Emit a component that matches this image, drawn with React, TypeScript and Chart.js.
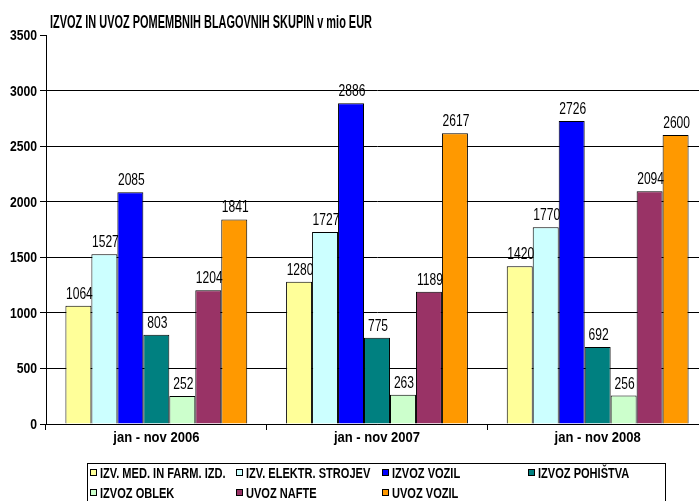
import React, { useEffect, useRef } from "react";
import { Chart, registerables } from "chart.js";

Chart.register(...registerables);

const title = "IZVOZ IN UVOZ POMEMBNIH BLAGOVNIH SKUPIN v mio EUR";
const categories = ["jan - nov 2006", "jan - nov 2007", "jan - nov 2008"];
const seriesNames = [
  "IZV. MED. IN FARM. IZD.",
  "IZV. ELEKTR. STROJEV",
  "IZVOZ VOZIL",
  "IZVOZ POHIŠTVA",
  "IZVOZ OBLEK",
  "UVOZ NAFTE",
  "UVOZ VOZIL",
];
const medFarm = [1064, 1280, 1420];
const elektr = [1527, 1727, 1770];
const izvozVozil = [2085, 2886, 2726];
const pohistvo = [803, 775, 692];
const oblek = [252, 263, 256];
const nafta = [1204, 1189, 2094];
const uvozVozil = [1841, 2617, 2600];
const seriesValues = [medFarm, elektr, izvozVozil, pohistvo, oblek, nafta, uvozVozil];
const colors = ["#FFFF99", "#CCFFFF", "#0000FF", "#008080", "#CCFFCC", "#993366", "#FF9900"];
const yMax = 3500;
const yStep = 500;

const FAMILY = '"Liberation Sans", Arial, sans-serif';

function drawText(
  ctx: CanvasRenderingContext2D,
  text: string,
  x: number,
  y: number,
  align: "left" | "center" | "right",
  font: string,
  sx: number,
  baseline: CanvasTextBaseline = "alphabetic"
) {
  ctx.save();
  ctx.font = font;
  ctx.textBaseline = baseline;
  ctx.textAlign = "left";
  const w = ctx.measureText(text).width * sx;
  let left = x;
  if (align === "center") left = x - w / 2;
  else if (align === "right") left = x - w;
  ctx.translate(left, y);
  ctx.scale(sx, 1);
  ctx.fillStyle = "#000";
  ctx.fillText(text, 0, 0);
  ctx.restore();
}

const textPlugin = {
  id: "textPlugin",
  afterDraw(chart: any) {
    const ctx: CanvasRenderingContext2D = chart.ctx;
    const area = chart.chartArea;
    // title
    ctx.save();
    const tFont = `bold 18px ${FAMILY}`;
    ctx.font = tFont;
    const tw = ctx.measureText(title).width;
    ctx.restore();
    drawText(ctx, title, 50, 28, "left", tFont, 322 / tw);

    // y tick labels
    const ys = chart.scales.y;
    ys.ticks.forEach((t: any) => {
      const py = ys.getPixelForValue(t.value);
      drawText(ctx, String(t.value), area.left - 9, py + 5, "right", `bold 14px ${FAMILY}`, 0.87);
    });

    // x labels
    const xs = chart.scales.x;
    categories.forEach((c, i) => {
      const px = xs.getPixelForValue(i);
      drawText(ctx, c, px, area.bottom + 18, "center", `bold 14px ${FAMILY}`, 0.93);
    });

    // data labels
    chart.data.datasets.forEach((ds: any, di: number) => {
      const meta = chart.getDatasetMeta(di);
      meta.data.forEach((bar: any, i: number) => {
        drawText(ctx, String(ds.data[i]), bar.x + 1, bar.y - 7, "center", `17px ${FAMILY}`, 0.71);
      });
    });

    // legend
    const lx = 87, ly = 463, lw = 578, lh = 46;
    ctx.save();
    ctx.strokeStyle = "#000";
    ctx.lineWidth = 1;
    ctx.strokeRect(lx + 0.5, ly + 0.5, lw, lh);
    ctx.restore();
    seriesNames.forEach((name, i) => {
      const col = i % 4;
      const row = Math.floor(i / 4);
      const sx0 = 90 + col * 146;
      const cy = 473 + row * 20;
      ctx.save();
      ctx.fillStyle = colors[i];
      ctx.fillRect(sx0, cy - 4, 7, 7);
      ctx.strokeStyle = "#000";
      ctx.lineWidth = 1;
      ctx.strokeRect(sx0 + 0.5, cy - 3.5, 6, 6);
      ctx.restore();
      drawText(ctx, name, sx0 + 10, cy + 5, "left", `bold 14px ${FAMILY}`, 0.79);
    });
  },
};

export default function App() {
  const ref = useRef<HTMLCanvasElement>(null);
  useEffect(() => {
    if (!ref.current) return;
    const chart = new Chart(ref.current, {
      type: "bar",
      data: {
        labels: categories,
        datasets: seriesNames.map((name, i) => ({
          label: name,
          data: seriesValues[i],
          backgroundColor: colors[i],
          borderColor: "#000",
          borderWidth: 1,
          categoryPercentage: 0.824,
          barPercentage: 1,
        })),
      },
      options: {
        animation: false,
        responsive: false,
        devicePixelRatio: 1,
        layout: { padding: { left: 0, right: 12, top: 35, bottom: 60 } },
        plugins: {
          legend: { display: false },
          title: { display: false },
          tooltip: { enabled: false },
        },
        scales: {
          x: {
            offset: true,
            grid: {
              offset: true,
              drawOnChartArea: false,
              drawTicks: true,
              tickLength: 6,
              color: "#000",
            },
            border: { color: "#000", width: 1 },
            ticks: { display: false },
            afterFit: (s: any) => {
              s.height = 31;
            },
          },
          y: {
            min: 0,
            max: yMax,
            ticks: { display: false, stepSize: yStep },
            grid: {
              color: (c: any) => (c.tick && c.tick.value === yMax ? "rgba(0,0,0,0)" : "#000"),
              tickColor: "#000",
              tickLength: 6,
              lineWidth: 1,
            },
            border: { color: "#000", width: 1 },
            afterFit: (s: any) => {
              s.width = 46;
            },
          },
        },
      },
      plugins: [textPlugin],
    });
    return () => chart.destroy();
  }, []);
  return (
    <div style={{ position: "absolute", left: 0, top: 0, width: 699, height: 501, overflow: "hidden", background: "#fff" }}>
      <canvas ref={ref} width={720} height={515} style={{ display: "block" }} />
    </div>
  );
}
